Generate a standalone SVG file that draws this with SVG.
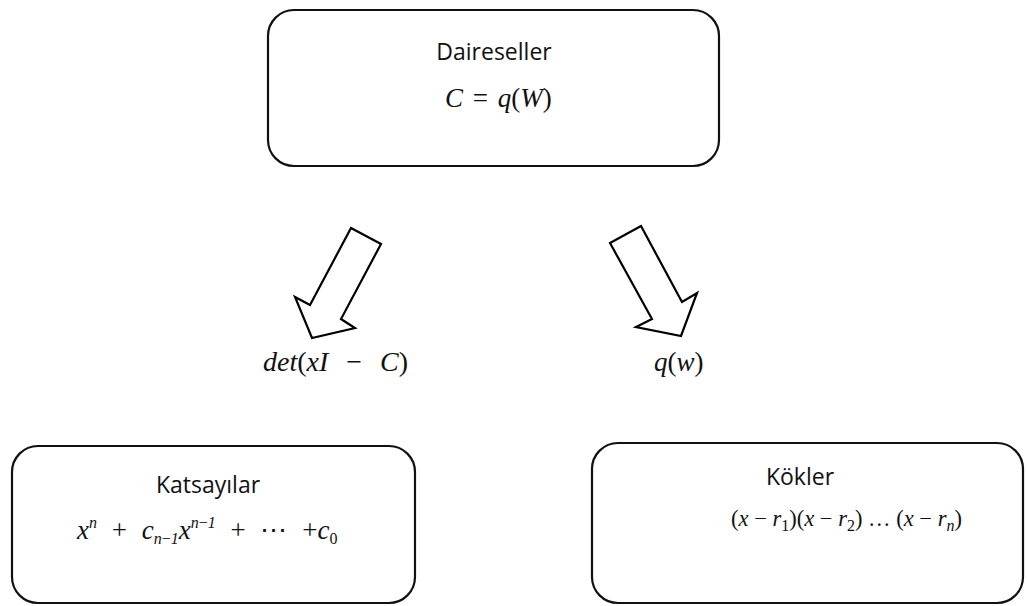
<svg xmlns="http://www.w3.org/2000/svg" width="1027" height="606" viewBox="0 0 1027 606">
  <style>
    .box { fill: #ffffff; stroke: #111111; stroke-width: 2.2; }
    .arrow { fill: #ffffff; stroke: #000000; stroke-width: 2.2; stroke-linejoin: miter; }
    .lbl { font-family: "Open Sans", "Liberation Sans", sans-serif; font-size: 23px; fill: #111111; text-anchor: middle; }
    .math { font-family: "Liberation Serif", "DejaVu Serif", serif; font-size: 24px; font-style: italic; fill: #111111; }
    .up { font-style: normal; }
    .sub { font-size: 16px; }
  </style>
  <rect width="1027" height="606" fill="#ffffff"/>

  <g id="node-daireseller">
    <rect class="box" x="268" y="10" width="451" height="156" rx="26" ry="26"/>
    <text class="lbl" x="494" y="60">Daireseller</text>
    <text class="math" x="445" y="107" style="font-size:27px">C<tspan class="up" dx="3"> = </tspan><tspan dx="3">q</tspan><tspan class="up">(</tspan>W<tspan class="up">)</tspan></text>
  </g>

  <g id="connectors">
    <polygon class="arrow" points="351,228 381,244 341,319 355,328 312,338 295,297 310,305"/>
    <polygon class="arrow" points="610,243 641,226 682,302 697,293 681,336 636,327 652,319"/>
  </g>

  <g id="label-det">
    <text class="math" x="263" y="371" style="font-size:28px">det<tspan class="up">(</tspan>xI<tspan class="up" dx="11"> − </tspan><tspan dx="11">C</tspan><tspan class="up">)</tspan></text>
  </g>

  <g id="label-qw">
    <text class="math" x="654" y="371" style="font-size:27px">q<tspan class="up">(</tspan>w<tspan class="up">)</tspan></text>
  </g>

  <g id="node-katsayilar">
    <rect class="box" x="12" y="446" width="403" height="157" rx="26" ry="26"/>
    <text class="lbl" x="208" y="493">Katsayılar</text>
    <text class="math" x="77" y="539" style="font-size:27px">x<tspan class="sub" dy="-11">n</tspan><tspan class="up" dy="11" dx="8"> + </tspan><tspan dx="8">c</tspan><tspan class="sub" dy="5">n<tspan class="up">−</tspan>1</tspan><tspan dy="-5">x</tspan><tspan class="sub" dy="-11">n<tspan class="up">−</tspan>1</tspan><tspan class="up" dy="11" dx="8"> + </tspan><tspan class="up" dx="8">⋯ </tspan><tspan class="up" dx="8">+</tspan>c<tspan class="sub up" dy="5">0</tspan></text>
  </g>

  <g id="node-kokler">
    <rect class="box" x="592" y="443" width="431" height="160" rx="26" ry="26"/>
    <text class="lbl" x="800" y="485">Kökler</text>
    <text class="math" x="731" y="526" style="font-size:22.5px"><tspan class="up">(</tspan>x<tspan class="up"> − </tspan>r<tspan class="sub up" dy="5">1</tspan><tspan class="up" dy="-5">)(</tspan>x<tspan class="up"> − </tspan>r<tspan class="sub up" dy="5">2</tspan><tspan class="up" dy="-5">) … (</tspan>x<tspan class="up"> − </tspan>r<tspan class="sub" dy="5">n</tspan><tspan class="up" dy="-5">)</tspan></text>
  </g>
</svg>
